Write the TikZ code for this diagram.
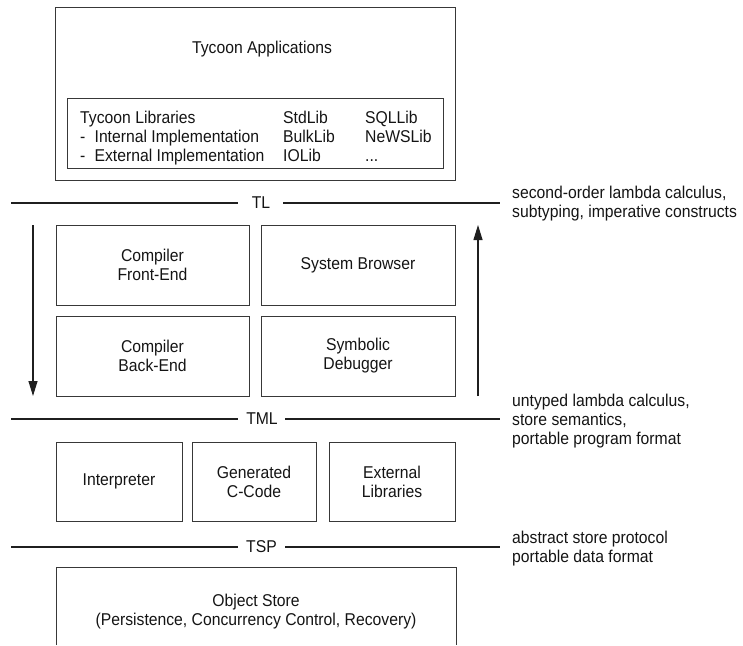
\documentclass[tikz,border=0pt]{standalone}
\usepackage{fontspec}
\setmainfont{Liberation Sans}[FakeStretch=0.92]
\usetikzlibrary{arrows.meta}
\begin{document}
\begin{tikzpicture}[x=1pt,y=-1pt,
  every node/.style={font=\fontsize{17.1}{19}\selectfont, text=black!92, inner sep=0pt},
  blk/.style={draw=black!78, line width=0.9pt, align=center},
  boxline/.style={draw=black!78, line width=0.9pt},
  layer/.style={draw=black!88, line width=1.2pt},
  arr/.style={draw=black!88, line width=1.1pt, -{Triangle[length=15pt,width=9pt]}},
  txt/.style={anchor=base west},
  note/.style={anchor=west, align=left}
]
\useasboundingbox (0,0) rectangle (743,645);

% Applications
\node[blk, minimum width=400pt, minimum height=173pt] (app) at (255,93.5) {};
\node (apptxt) at (262,49) {Tycoon Applications};
\node[blk, minimum width=376pt, minimum height=70pt] (lib) at (255,133) {};
\node[txt] (l1) at (80,123) {Tycoon Libraries};
\node[txt] (l2) at (80,142) {-\hskip 9.2pt Internal Implementation};
\node[txt] (l3) at (80,161) {-\hskip 9.2pt External Implementation};
\node[txt] (l4) at (283,123) {StdLib};
\node[txt] (l5) at (283,142) {BulkLib};
\node[txt] (l6) at (283,161) {IOLib};
\node[txt] (l7) at (365,123) {SQLLib};
\node[txt] (l8) at (365,142) {NeWSLib};
\node[txt] (l9) at (365,161) {...};

% TL
\coordinate (tla) at (11,203);
\coordinate (tlb) at (238,203);
\coordinate (tlc) at (283,203);
\coordinate (tld) at (500,203);
\node (tl) at (261,203) {TL};
\draw[layer] (tla) -- (tlb);
\draw[layer] (tlc) -- (tld);
\node[note] (tlnote) at (512,204) {second-order lambda calculus,\\subtyping, imperative constructs};

% compiler etc.
\node[blk, minimum width=193pt, minimum height=80pt] (cfe) at (152.5,265) {Compiler\\Front-End};
\node[blk, minimum width=194pt, minimum height=80pt] (sb) at (358,265) {System Browser};
\node[blk, minimum width=193pt, minimum height=80pt] (cbe) at (152.5,356) {Compiler\\Back-End};
\node[blk, minimum width=194pt, minimum height=80pt] (sd) at (358,356) {Symbolic\\Debugger};

\coordinate (dtop) at (33,225);
\coordinate (dbot) at (33,396);
\coordinate (utop) at (478,225);
\coordinate (ubot) at (478,396);
\draw[arr] (dtop) -- (dbot);
\draw[arr] (ubot) -- (utop);

% TML
\coordinate (tmla) at (11,419);
\coordinate (tmlb) at (238,419);
\coordinate (tmlc) at (285,419);
\coordinate (tmld) at (500,419);
\node (tml) at (262,419) {TML};
\draw[layer] (tmla) -- (tmlb);
\draw[layer] (tmlc) -- (tmld);
\node[note] (tmlnote) at (512,421) {untyped lambda calculus,\\store semantics,\\portable program format};

% bottom row
\node[blk, minimum width=126pt, minimum height=79pt] (interp) at (119,481.5) {Interpreter};
\node[blk, minimum width=124pt, minimum height=79pt] (gen) at (254,481.5) {Generated\\C-Code};
\node[blk, minimum width=126pt, minimum height=79pt] (ext) at (392,481.5) {External\\Libraries};

% TSP
\coordinate (tspa) at (11,547);
\coordinate (tspb) at (238,547);
\coordinate (tspc) at (285,547);
\coordinate (tspd) at (500,547);
\node (tsp) at (261.5,547) {TSP};
\draw[layer] (tspa) -- (tspb);
\draw[layer] (tspc) -- (tspd);
\node[note] (tspnote) at (512,549) {abstract store protocol\\portable data format};

% object store
\coordinate (s1) at (56,645);
\coordinate (s2) at (56,567);
\coordinate (s3) at (456,567);
\coordinate (s4) at (456,645);
\draw[boxline] (s1) -- (s2) -- (s3) -- (s4);
\node[align=center] (store) at (256,612) {Object Store\\(Persistence, Concurrency Control, Recovery)};
\end{tikzpicture}
\end{document}
